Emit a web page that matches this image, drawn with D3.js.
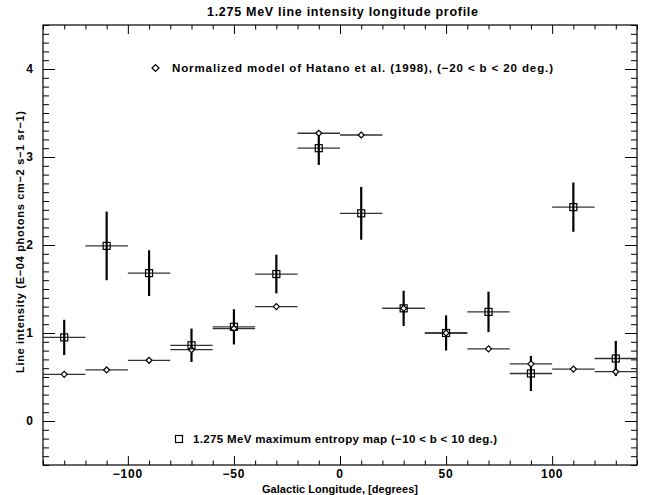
<!DOCTYPE html>
<html><head><meta charset="utf-8">
<script src="https://cdn.jsdelivr.net/npm/d3@7"></script>
<style>body{margin:0;background:#fff}svg{display:block}text{font-family:"Liberation Sans",Arial,sans-serif;font-weight:bold;fill:#000}</style>
</head><body>
<svg id="c" width="650" height="495"></svg>
<script>
const longitudes = [-130,-110,-90,-70,-50,-30,-10,10,30,50,70,90,110,130];
const binHalfWidth = 10;
const mapValues = [0.95,1.99,1.68,0.86,1.07,1.67,3.10,2.36,1.28,1.00,1.24,0.54,2.43,0.71];
const mapErrors = [0.20,0.39,0.26,0.19,0.20,0.22,0.19,0.30,0.20,0.20,0.23,0.20,0.28,0.20];
const modelValues = [0.53,0.58,0.69,0.81,1.05,1.30,3.27,3.25,1.28,1.00,0.82,0.65,0.59,0.56];
const xTicks = [-100,-50,0,50,100];
const yTicks = [0,1,2,3,4];
const titleText = "1.275 MeV line intensity longitude profile";
const modelLegend = "Normalized model of Hatano et al. (1998), (\u221220 < b < 20 deg.)";
const mapLegend = "1.275 MeV maximum entropy map (\u221210 < b < 10 deg.)";
const xLabel = "Galactic Longitude, [degrees]";
const yLabel = "Line intensity (E\u221204 photons cm\u22122 s\u22121 sr\u22121)";

const svg = d3.select("#c");
const L=43, R=637, T=25, B=465;
const x = d3.scaleLinear().domain([-140,140]).range([L,R]);
const y = d3.scaleLinear().domain([-0.5,4.5]).range([B,T]);
const fmt = d => d<0 ? "\u2212"+Math.abs(d) : String(d);

const xMinor = d3.range(-140,141,10).filter(v=>!xTicks.includes(v));
const yMinor = d3.range(-5,46,1).map(v=>v/10).filter(v=>!yTicks.includes(v));
function axis(gen, pos, ticks, len){
  const g = svg.append("g").attr("transform",pos).call(gen.tickValues(ticks).tickSize(len).tickSizeOuter(0).tickFormat(""));
  g.select(".domain").remove();
  g.selectAll("line").attr("stroke","#000").attr("stroke-width",1);
  return g;
}
axis(d3.axisTop(x), `translate(0,${B})`, xTicks, 9);
axis(d3.axisTop(x), `translate(0,${B})`, xMinor, 4.5);
axis(d3.axisBottom(x), `translate(0,${T})`, xTicks, 9);
axis(d3.axisBottom(x), `translate(0,${T})`, xMinor, 4.5);
axis(d3.axisRight(y), `translate(${L},0)`, yTicks, 12);
axis(d3.axisRight(y), `translate(${L},0)`, yMinor, 6);
axis(d3.axisLeft(y), `translate(${R},0)`, yTicks, 12);
axis(d3.axisLeft(y), `translate(${R},0)`, yMinor, 6);

svg.append("g").selectAll("text").data(xTicks).join("text")
  .attr("x",d=>x(d)).attr("y",478).attr("text-anchor","middle").attr("font-size","12px")
  .attr("letter-spacing","0.8px").text(fmt);
svg.append("g").selectAll("text").data(yTicks).join("text")
  .attr("x",33).attr("y",d=>y(d)+4).attr("text-anchor","end").attr("font-size","12px").text(fmt);

svg.append("rect").attr("x",L).attr("y",T).attr("width",R-L).attr("height",B-T)
  .attr("fill","none").attr("stroke","#000").attr("stroke-width",1.2);

svg.append("defs").append("clipPath").attr("id","cp").append("rect")
  .attr("x",L).attr("y",T).attr("width",R-L).attr("height",B-T);
const data = longitudes.map((l,i)=>({l, m:mapValues[i], e:mapErrors[i], h:modelValues[i]}));
const pg = svg.append("g").attr("clip-path","url(#cp)");

pg.selectAll(".mh").data(data).join("line").attr("class","mh")
  .attr("x1",d=>x(d.l-binHalfWidth)).attr("x2",d=>x(d.l+binHalfWidth))
  .attr("y1",d=>y(d.h)).attr("y2",d=>y(d.h)).attr("stroke","#333").attr("stroke-width",1.3);
pg.selectAll(".ph").data(data).join("line").attr("class","ph")
  .attr("x1",d=>x(d.l-binHalfWidth)).attr("x2",d=>x(d.l+binHalfWidth))
  .attr("y1",d=>y(d.m)).attr("y2",d=>y(d.m)).attr("stroke","#333").attr("stroke-width",1.3);
pg.selectAll(".pv").data(data).join("line").attr("class","pv")
  .attr("x1",d=>x(d.l)).attr("x2",d=>x(d.l))
  .attr("y1",d=>y(d.m-d.e)).attr("y2",d=>y(d.m+d.e)).attr("stroke","#000").attr("stroke-width",2.2);
pg.selectAll(".dm").data(data).join("path").attr("class","dm")
  .attr("d",d=>{const cx=x(d.l), cy=y(d.h), s=3; return `M${cx-s},${cy}L${cx},${cy-s}L${cx+s},${cy}L${cx},${cy+s}Z`;})
  .attr("fill","#fff").attr("stroke","#000").attr("stroke-width",1.2);
pg.selectAll(".sq").data(data).join("rect").attr("class","sq")
  .attr("x",d=>x(d.l)-3.5).attr("y",d=>y(d.m)-3.5).attr("width",7).attr("height",7)
  .attr("fill","none").attr("stroke","#000").attr("stroke-width",1.2);

svg.append("path").attr("d","M152,68L155.5,64.5L159,68L155.5,71.5Z").attr("fill","none").attr("stroke","#000").attr("stroke-width",1.2);
svg.append("text").attr("x",172).attr("y",72).attr("font-size","11.5px")
  .attr("textLength",381).attr("lengthAdjust","spacing").text(modelLegend);
svg.append("rect").attr("x",175.5).attr("y",435.5).attr("width",7).attr("height",7).attr("fill","none").attr("stroke","#000").attr("stroke-width",1.2);
svg.append("text").attr("x",193).attr("y",443).attr("font-size","11.5px")
  .attr("textLength",304).attr("lengthAdjust","spacing").text(mapLegend);

svg.append("text").attr("x",207).attr("y",16).attr("font-size","12.5px")
  .attr("textLength",271).attr("lengthAdjust","spacing").text(titleText);
svg.append("text").attr("x",262).attr("y",493).attr("font-size","11px")
  .attr("textLength",156).attr("lengthAdjust","spacing").text(xLabel);
svg.append("text").attr("transform","translate(24,373) rotate(-90)").attr("font-size","11px")
  .attr("textLength",262).attr("lengthAdjust","spacing").text(yLabel);
</script>
</body></html>
